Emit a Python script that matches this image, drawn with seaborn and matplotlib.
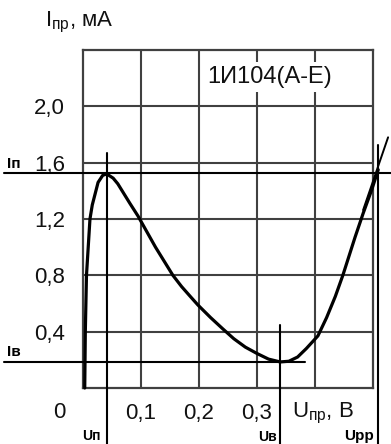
import matplotlib
matplotlib.use("Agg")
import matplotlib.pyplot as plt
import seaborn as sns
import pandas as pd

# ---- data ----
u_curve = [0.003, 0.004, 0.006, 0.009, 0.012, 0.016, 0.021, 0.026, 0.034, 0.041,
           0.052, 0.060, 0.069, 0.081, 0.095, 0.110, 0.125, 0.140, 0.155, 0.170,
           0.185, 0.198, 0.220, 0.241, 0.260, 0.280, 0.300, 0.320, 0.340, 0.355,
           0.370, 0.385, 0.405, 0.420, 0.435, 0.448, 0.469, 0.483, 0.498, 0.509]
i_curve = [0.00, 0.40, 0.80, 1.00, 1.20, 1.30, 1.38, 1.46, 1.51, 1.52,
           1.49, 1.45, 1.39, 1.31, 1.22, 1.11, 1.00, 0.90, 0.80, 0.72,
           0.65, 0.59, 0.50, 0.42, 0.35, 0.29, 0.245, 0.205, 0.185, 0.19,
           0.22, 0.28, 0.37, 0.50, 0.65, 0.80, 1.07, 1.24, 1.41, 1.55]
x_ticks = [0.1, 0.2, 0.3, 0.4]
x_tick_labels = ["0,1", "0,2", "0,3", ""]
y_ticks = [0.4, 0.8, 1.2, 1.6, 2.0]
y_tick_labels = ["0,4", "0,8", "1,2", "1,6", "2,0"]
i_peak = 1.527      # Iп
i_valley = 0.185    # Iв
u_peak = 0.041      # Uп
u_valley = 0.340    # Uв
u_pp = 0.509        # Upp
tangent_u = [0.483, 0.526]
tangent_i = [1.264, 1.780]
title_text = "1И104(А-Е)"

sns.set_style("white")
plt.rcParams["font.family"] = ["Liberation Sans", "DejaVu Sans"]
plt.rcParams["mathtext.fontset"] = "custom"
plt.rcParams["mathtext.rm"] = "Liberation Sans"
plt.rcParams["mathtext.it"] = "Liberation Sans"

W, H = 391, 444
fig = plt.figure(figsize=(W / 100, H / 100), dpi=100)
ax = fig.add_axes([83 / W, (H - 388) / H, 290 / W, 338 / H])

df = pd.DataFrame({"U": u_curve, "I": i_curve})
sns.lineplot(data=df, x="U", y="I", sort=False, color="black", lw=2.3, ax=ax,
             clip_on=False, zorder=5)

ax.set_xlim(0, 0.5)
ax.set_ylim(0, 2.4)
ax.set_xticks(x_ticks)
ax.set_xticklabels(x_tick_labels, fontsize=16, color="#111111")
ax.set_yticks(y_ticks)
ax.set_yticklabels(y_tick_labels, fontsize=16, color="#111111")
ax.tick_params(axis="x", length=0, pad=11)
ax.tick_params(axis="y", length=0, pad=13)
ax.grid(True, color="#404040", lw=1.5)
for s in ax.spines.values():
    s.set_color("#404040")
    s.set_linewidth(1.6)
ax.set_xlabel("")
ax.set_ylabel("")

# annotation lines
ax.axhline(i_peak, xmin=-0.272, xmax=1.065, color="black", lw=1.5, clip_on=False, zorder=6)
ax.axhline(i_valley, xmin=-0.272, xmax=0.766, color="black", lw=1.5, clip_on=False, zorder=6)
ax.axvline(u_peak, ymin=-0.17, ymax=0.695, color="black", lw=1.5, clip_on=False, zorder=6)
ax.axvline(u_valley, ymin=-0.17, ymax=0.186, color="black", lw=1.5, clip_on=False, zorder=6)
ax.axvline(u_pp, ymin=-0.17, ymax=0.719, color="black", lw=1.5, clip_on=False, zorder=6)
ax.plot(tangent_u, tangent_i, color="black", lw=1.4, clip_on=False, zorder=6)

# texts
ax.text(0.321, 2.21, title_text, fontsize=17, ha="center", va="center", color="#111111",
        zorder=7, bbox=dict(facecolor="white", edgecolor="none", pad=3))
fig.text(45 / W, 1 - 22 / H, r"I$_{\mathregular{пр}}$, мА", fontsize=16,
         ha="left", va="center", color="#111111")
fig.text(292 / W, 1 - 413 / H, r"U$_{\mathregular{пр}}$, В", fontsize=16,
         ha="left", va="center", color="#111111")
fig.text(66 / W, 1 - 412 / H, "0", fontsize=16, ha="right", va="center", color="#111111")
fig.text(7 / W, 1 - 164 / H, "Iп", fontsize=11, fontweight="bold", ha="left", va="center", color="black")
fig.text(7 / W, 1 - 352 / H, "Iв", fontsize=11, fontweight="bold", ha="left", va="center", color="black")
fig.text(82 / W, 1 - 436 / H, "Uп", fontsize=10, fontweight="bold", ha="left", va="center", color="black")
fig.text(277 / W, 1 - 437 / H, "Uв", fontsize=10, fontweight="bold", ha="right", va="center", color="black")
fig.text(374 / W, 1 - 436 / H, "Upp", fontsize=11, fontweight="bold", ha="right", va="center", color="black")

fig.savefig("out.png", dpi=100)
